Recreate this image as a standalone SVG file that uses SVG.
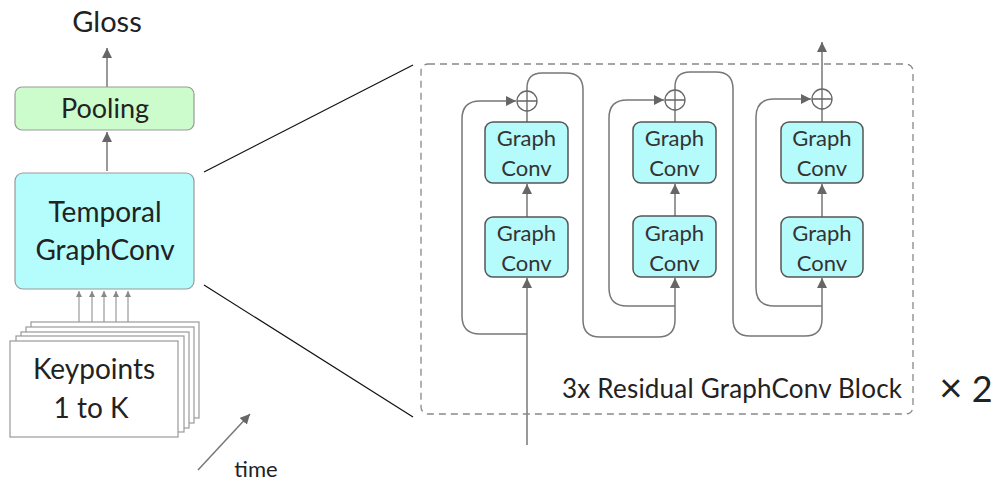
<svg xmlns="http://www.w3.org/2000/svg" width="1000" height="482" viewBox="0 0 1000 482">
<defs>
<marker id="ah" viewBox="0 0 10 10" refX="10" refY="5" markerWidth="10" markerHeight="10" markerUnits="userSpaceOnUse" orient="auto"><path d="M0,0 L10,5 L0,10 Z" fill="#666"/></marker>
<marker id="ahs" viewBox="0 0 10 10" refX="10" refY="5" markerWidth="6" markerHeight="6" markerUnits="userSpaceOnUse" orient="auto"><path d="M0,0 L10,5 L0,10 Z" fill="#888"/></marker>
<style>
text{font-family:Lato,"Open Sans","Liberation Sans",sans-serif;text-anchor:middle;fill:#222}
.gc{fill:#b5fbfb;stroke:#555;stroke-width:1.5}
.gt{font-size:22px;fill:#333}
.c{fill:none;stroke:#777;stroke-width:1.5}
.cs{fill:none;stroke:#999;stroke-width:1.2}
.kp{fill:#fff;stroke:#999;stroke-width:1.2}
.sum{fill:#fff;stroke:#666;stroke-width:1.3}
</style>
</defs>
<rect width="1000" height="482" fill="#fff"/>

<g id="connectors">
<path class="c" d="M107 87 V48" marker-end="url(#ah)"/>
<path class="c" d="M107 171 V132" marker-end="url(#ah)"/>
<path class="cs" d="M79 341 V291" marker-end="url(#ahs)"/>
<path class="cs" d="M92 336 V291" marker-end="url(#ahs)"/>
<path class="cs" d="M104 332 V291" marker-end="url(#ahs)"/>
<path class="cs" d="M116 327 V291" marker-end="url(#ahs)"/>
<path class="cs" d="M128 322 V291" marker-end="url(#ahs)"/>
<path class="c" d="M198 470 L250 414" marker-end="url(#ah)"/>
<path fill="none" stroke="#111" stroke-width="1.2" d="M204 172 L413 65 M204 285 L413 417"/>
<!-- block 1 -->
<path class="c" d="M527 445 V278" marker-end="url(#ah)"/>
<path class="c" d="M527 334 H480 Q462 334 462 316 V119 Q462 101 480 101 H516" marker-end="url(#ah)"/>
<path class="c" d="M527 217 V184" marker-end="url(#ah)"/>
<path class="c" d="M527 122 V111"/>
<path class="c" d="M527 91 V88 Q527 73 542 73 H566 Q583 73 583 90 V320 Q583 337 600 337 H658 Q675 337 675 320 V278" marker-end="url(#ah)"/>
<!-- block 2 -->
<path class="c" d="M675 306 H627 Q609 306 609 288 V118 Q609 100 627 100 H664" marker-end="url(#ah)"/>
<path class="c" d="M675 216 V184" marker-end="url(#ah)"/>
<path class="c" d="M675 122 V110"/>
<path class="c" d="M675 90 V87 Q675 72 690 72 H716 Q733 72 733 89 V319 Q733 336 750 336 H805 Q822 336 822 319 V278" marker-end="url(#ah)"/>
<!-- block 3 -->
<path class="c" d="M822 306 H774 Q756 306 756 288 V117 Q756 99 774 99 H811" marker-end="url(#ah)"/>
<path class="c" d="M822 217 V184" marker-end="url(#ah)"/>
<path class="c" d="M822 122 V109"/>
<path class="c" d="M822 89 V42" marker-end="url(#ah)"/>
</g>

<g id="gloss"><text x="107" y="32" font-size="29">Gloss</text></g>
<g id="pooling"><rect x="15" y="87" width="179" height="43" rx="7" fill="#ccfccc" stroke="#999" stroke-width="1.2"/><text x="105" y="118" font-size="27">Pooling</text></g>
<g id="temporal"><rect x="15" y="173" width="179" height="116" rx="8" fill="#b5fdfd" stroke="#999" stroke-width="1.2"/><text x="105" y="222" font-size="28">Temporal</text><text x="105" y="260" font-size="28">GraphConv</text></g>
<g id="keypoints">
<rect class="kp" x="31" y="322" width="168" height="96"/>
<rect class="kp" x="26" y="327" width="168" height="96"/>
<rect class="kp" x="21" y="332" width="168" height="96"/>
<rect class="kp" x="16" y="336" width="168" height="96"/>
<rect class="kp" x="10" y="341" width="168" height="96"/>
<text x="94" y="379" font-size="28">Keypoints</text>
<text x="91" y="418" font-size="28">1 to K</text>
</g>
<g id="time"><text x="256" y="477" font-size="22">time</text></g>

<g id="block">
<rect x="421" y="64" width="492" height="350" rx="7" fill="none" stroke="#888" stroke-width="1.3" stroke-dasharray="7 5"/>
<text x="732" y="398" font-size="26" textLength="340">3x Residual GraphConv Block</text>
</g>
<g id="times2"><text x="966" y="402" font-size="36"><tspan font-size="40">×</tspan> 2</text></g>

<g id="gc1a"><rect class="gc" x="485" y="122" width="83" height="61" rx="8"/><text class="gt" x="526.5" y="146">Graph</text><text class="gt" x="526.5" y="176">Conv</text></g>
<g id="gc1b"><rect class="gc" x="485" y="217" width="83" height="60" rx="8"/><text class="gt" x="526.5" y="241">Graph</text><text class="gt" x="526.5" y="271">Conv</text></g>
<g id="gc2a"><rect class="gc" x="633" y="122" width="83" height="61" rx="8"/><text class="gt" x="674.5" y="146">Graph</text><text class="gt" x="674.5" y="176">Conv</text></g>
<g id="gc2b"><rect class="gc" x="633" y="216" width="83" height="61" rx="8"/><text class="gt" x="674.5" y="241">Graph</text><text class="gt" x="674.5" y="271">Conv</text></g>
<g id="gc3a"><rect class="gc" x="781" y="122" width="82" height="61" rx="8"/><text class="gt" x="822" y="146">Graph</text><text class="gt" x="822" y="176">Conv</text></g>
<g id="gc3b"><rect class="gc" x="781" y="217" width="82" height="60" rx="8"/><text class="gt" x="822" y="241">Graph</text><text class="gt" x="822" y="271">Conv</text></g>

<g id="sum1"><circle class="sum" cx="527" cy="101" r="10"/><path d="M517 101 H537 M527 91 V111" stroke="#666" stroke-width="1.3"/></g>
<g id="sum2"><circle class="sum" cx="675" cy="100" r="10"/><path d="M665 100 H685 M675 90 V110" stroke="#666" stroke-width="1.3"/></g>
<g id="sum3"><circle class="sum" cx="822" cy="99" r="10"/><path d="M812 99 H832 M822 89 V109" stroke="#666" stroke-width="1.3"/></g>
</svg>
